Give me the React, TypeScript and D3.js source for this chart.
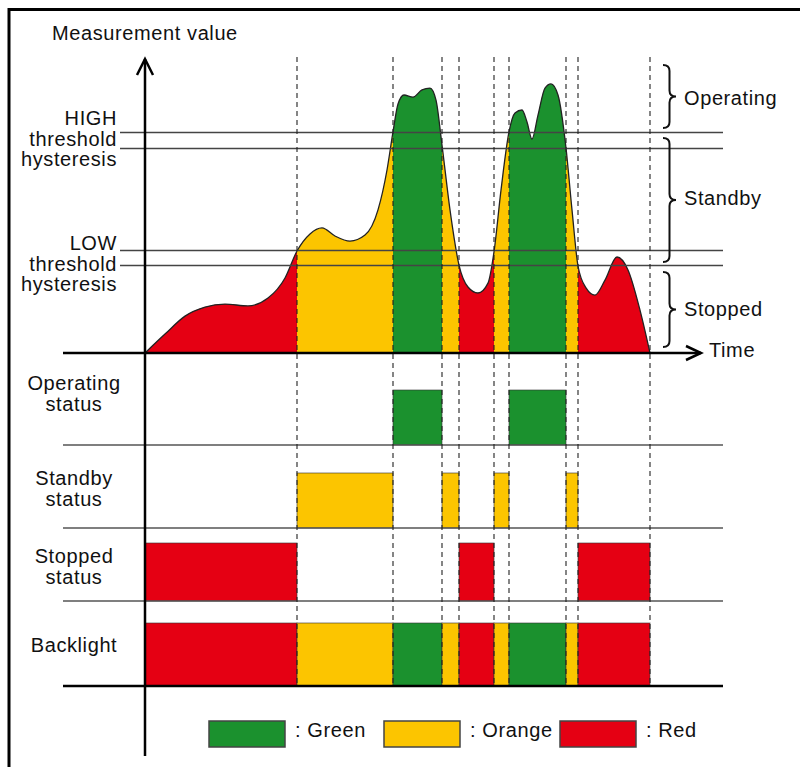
import React from "react";
import * as d3 from "d3";

// ---- data ----
// time boundaries of each colour segment (time units) and their state
const segmentBounds = [0, 152, 248, 297, 314, 349, 364, 421, 433, 505];
const segmentStates = ["red", "orange", "green", "orange", "red", "orange", "green", "orange", "red"];

// measurement curve samples (time, value)
const curveTimes = [0, 20, 40, 60, 80, 103, 123, 140, 152, 165, 177, 190, 205, 220, 233, 242, 248, 253, 259, 268, 277, 285, 291, 297, 305, 314, 323, 333, 343, 349, 356, 364, 370, 377, 382, 387, 393, 400, 406, 413, 421, 427, 433, 441, 450, 460, 472, 483, 495, 505];
const curveValues = [0, 6.3, 12.3, 15.3, 16.3, 15.7, 18.3, 25, 34, 39.7, 41.7, 39, 37.3, 39.3, 47.7, 61, 73.7, 83, 86, 85.3, 87.7, 88.3, 84.3, 69.3, 47.7, 29.3, 22, 20, 23.3, 33.7, 54.3, 73.7, 80, 81, 77, 71.3, 79.3, 88.3, 89.7, 86, 68.3, 47.7, 29, 21.7, 19.3, 24.3, 32, 27.7, 14.3, 0];

// thresholds
const thresholdValues = [73.7, 68.3, 34.3, 29.2];
const highLabels = ["HIGH", "threshold", "hysteresis"];
const lowLabels = ["LOW", "threshold", "hysteresis"];

// status rows
const statusRows = [
  { lines: ["Operating", "status"], state: "green" },
  { lines: ["Standby", "status"], state: "orange" },
  { lines: ["Stopped", "status"], state: "red" },
  { lines: ["Backlight"], state: "all" },
];

const braceLabels = ["Operating", "Standby", "Stopped"];
const legendItems = [
  { key: "green", label: ": Green" },
  { key: "orange", label: ": Orange" },
  { key: "red", label: ": Red" },
];

const colors: Record<string, string> = {
  green: "#1b912e",
  orange: "#fcc500",
  red: "#e50013",
};

const FONT = "'Liberation Sans', Arial, Helvetica, sans-serif";
const FS = 20;
const LS = 0.6;

export default function App() {
  const x = d3.scaleLinear().domain([0, 580]).range([145, 725]);
  const y = d3.scaleLinear().domain([0, 100]).range([353, 53]);

  const pts: [number, number][] = curveTimes.map((t, i) => [t, curveValues[i]]);
  const area = d3
    .area<[number, number]>()
    .x((d) => x(d[0]))
    .y0(y(0))
    .y1((d) => y(d[1]))
    .curve(d3.curveMonotoneX);
  const line = d3
    .line<[number, number]>()
    .x((d) => x(d[0]))
    .y((d) => y(d[1]))
    .curve(d3.curveMonotoneX);
  const areaPath = area(pts) || "";
  const linePath = line(pts) || "";

  const segments = segmentStates.map((s, i) => ({
    state: s,
    t0: segmentBounds[i],
    t1: segmentBounds[i + 1],
  }));

  // status rows layout
  const rowTop = [390, 473, 543, 623];
  const rowBase = [445, 528, 601, 686];
  const rowLabelBaselines = [[390, 411], [485, 506], [563, 584], [652]];

  const brace = (x0: number, x1: number, y0: number, y1: number) => {
    const xm = (x0 + x1) / 2;
    const ym = (y0 + y1) / 2;
    const r = 6;
    return `M${x0},${y0} Q${xm},${y0} ${xm},${y0 + r} L${xm},${ym - r} Q${xm},${ym} ${x1},${ym} Q${xm},${ym} ${xm},${ym + r} L${xm},${y1 - r} Q${xm},${y1} ${x0},${y1}`;
  };
  const braces = [
    { y0: 65, y1: 128, label: braceLabels[0], ly: 105 },
    { y0: 138, y1: 262, label: braceLabels[1], ly: 205 },
    { y0: 272, y1: 347, label: braceLabels[2], ly: 316 },
  ];

  const legendX = [209, 384, 560];

  return (
    <svg width={800} height={767} style={{ position: "absolute", left: 0, top: 0 }} fontFamily={FONT} letterSpacing={LS}>
      <rect x={0} y={0} width={800} height={767} fill="#fff" />
      {/* frame (top & left visible) */}
      <path d="M9,800 L9,9.5 L800,9.5" fill="none" stroke="#000" strokeWidth={3} />

      <defs>
        {segments.map((s, i) => (
          <clipPath id={`seg${i}`} key={i}>
            <rect x={x(s.t0)} y={0} width={x(s.t1) - x(s.t0)} height={400} />
          </clipPath>
        ))}
      </defs>

      {/* filled curve segments */}
      {segments.map((s, i) => (
        <path key={i} d={areaPath} fill={colors[s.state]} clipPath={`url(#seg${i})`} />
      ))}
      <path d={linePath} fill="none" stroke="#222" strokeWidth={1.3} />

      {/* threshold lines */}
      {thresholdValues.map((v, i) => (
        <line key={i} x1={120} x2={723} y1={Math.round(y(v)) + 0.5} y2={Math.round(y(v)) + 0.5} stroke="#444" strokeWidth={1.3} />
      ))}

      {/* status rows bars */}
      {statusRows.map((row, ri) =>
        segments
          .filter((s) => row.state === "all" || s.state === row.state)
          .map((s, i) => (
            <rect
              key={`${ri}-${i}`}
              x={x(s.t0)}
              y={rowTop[ri]}
              width={x(s.t1) - x(s.t0)}
              height={rowBase[ri] - rowTop[ri]}
              fill={colors[s.state]}
              stroke="#333"
              strokeOpacity={0.6}
              strokeWidth={1}
            />
          ))
      )}

      {/* status baselines */}
      {rowBase.map((b, i) => (
        <line key={i} x1={63} x2={723} y1={b} y2={b} stroke={i === 3 ? "#000" : "#555"} strokeWidth={i === 3 ? 2.5 : 1.5} />
      ))}

      {/* dashed verticals */}
      {segmentBounds.slice(1).map((t, i) => (
        <line key={i} x1={x(t)} x2={x(t)} y1={57} y2={684} stroke="#222" strokeWidth={1.1} strokeDasharray="5,4" />
      ))}

      {/* axes */}
      <line x1={x(0)} x2={x(0)} y1={59} y2={756} stroke="#000" strokeWidth={2.5} />
      <path d={`M${x(0) - 8},${75} L${x(0)},${59} L${x(0) + 8},${75}`} fill="none" stroke="#000" strokeWidth={2.5} />
      <line x1={63} x2={701} y1={y(0)} y2={y(0)} stroke="#000" strokeWidth={2.5} />
      <path d={`M${686},${y(0) - 7} L${701},${y(0)} L${686},${y(0) + 7}`} fill="none" stroke="#000" strokeWidth={2.5} />

      {/* texts */}
      <text x={52} y={40} fontSize={FS} fill="#111">Measurement value</text>
      <text x={709} y={357} fontSize={FS} fill="#111">Time</text>
      {highLabels.map((l, i) => (
        <text key={l} x={117} y={125 + i * 20.5} fontSize={FS} textAnchor="end" fill="#111">{l}</text>
      ))}
      {lowLabels.map((l, i) => (
        <text key={l} x={117} y={250 + i * 20.5} fontSize={FS} textAnchor="end" fill="#111">{l}</text>
      ))}
      {statusRows.map((row, ri) =>
        row.lines.map((l, li) => (
          <text key={`${ri}-${li}`} x={74} y={rowLabelBaselines[ri][li]} fontSize={FS} textAnchor="middle" fill="#111">{l}</text>
        ))
      )}

      {/* braces */}
      {braces.map((b, i) => (
        <g key={i}>
          <path d={brace(663, 676, b.y0, b.y1)} fill="none" stroke="#111" strokeWidth={2} />
          <text x={684} y={b.ly} fontSize={FS} fill="#111">{b.label}</text>
        </g>
      ))}

      {/* legend */}
      {legendItems.map((it, i) => (
        <g key={it.key}>
          <rect x={legendX[i]} y={721} width={76} height={26} fill={colors[it.key]} stroke="#444" strokeWidth={1.5} />
          <text x={legendX[i] + 86} y={737} fontSize={FS} fill="#111">{it.label}</text>
        </g>
      ))}
    </svg>
  );
}
